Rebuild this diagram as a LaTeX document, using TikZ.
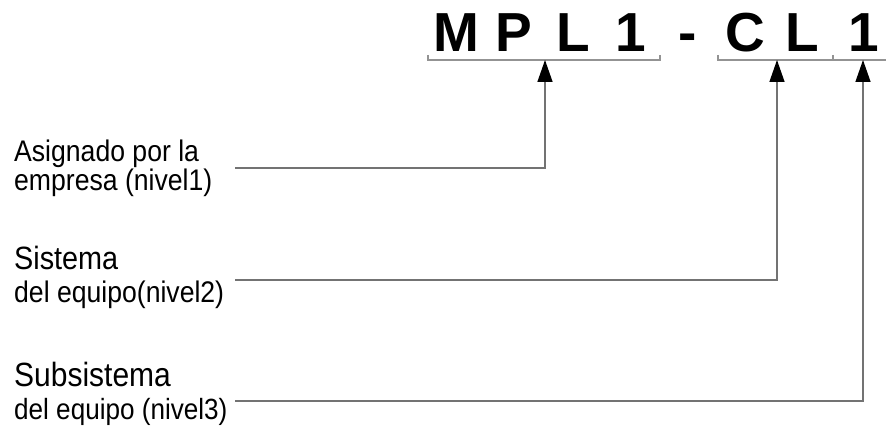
\documentclass[tikz,border=0pt]{standalone}
\usepackage{fontspec}
\setmainfont{Liberation Sans}
\usetikzlibrary{arrows.meta}
\newcommand{\tallx}[1]{\scalebox{1}[1.12]{#1}}
\begin{document}
\begin{tikzpicture}[x=1pt,y=-1pt,
  big/.style={inner sep=0pt,anchor=base,font=\fontsize{55}{60}\selectfont\bfseries},
  lbl/.style={inner sep=0pt,anchor=base west,font=\fontsize{26.6}{30}\selectfont},
  brk/.style={draw=gray!85,line width=1.3pt},
  conn/.style={draw=gray!90!black,line width=1.4pt,-{Triangle[length=22pt,width=15pt,color=black]}}]
\useasboundingbox (0,0) rectangle (887,430);
% letters
\node[big] (m1) at (456,52) {M};
\node[big] (p1) at (514,52) {P};
\node[big] (l1) at (573,52) {L};
\node[big] (n1) at (631,52) {1};
\node[big] (d1) at (688,52) {-};
\node[big] (c2) at (745,52) {C};
\node[big] (l2) at (802,52) {L};
\node[big] (n2) at (864,52) {1};
% brackets
\coordinate (b1) at (545,60);
\coordinate (b2) at (777,60);
\coordinate (b3) at (863,60);
\draw[brk] (428,55) -- (428,60) -- (660,60) -- (660,55);
\draw[brk] (718,55) -- (718,60) -- (886,60);
\draw[brk] (833,55) -- (833,60);
% labels
\node[lbl] (t1a) at (14,162) {\tallx{Asignado por la}};
\node[lbl] (t1b) at (14,191) {\tallx{empresa (nivel1)}};
\node[lbl,font=\fontsize{28.8}{32}\selectfont] (t2a) at (14,270) {\tallx{Sistema}};
\node[lbl] (t2b) at (14,303) {\tallx{del equipo(nivel2)}};
\node[lbl,font=\fontsize{30}{34}\selectfont] (t3a) at (14,387) {\tallx{Subsistema}};
\node[lbl,font=\fontsize{26.1}{30}\selectfont] (t3b) at (14,420) {\tallx{del equipo (nivel3)}};
% connectors
\coordinate (s1) at (235,168);
\coordinate (s2) at (235,280);
\coordinate (s3) at (235,401);
\draw[conn] (s1) -| (b1);
\draw[conn] (s2) -| (b2);
\draw[conn] (s3) -| (b3);
\end{tikzpicture}
\end{document}
